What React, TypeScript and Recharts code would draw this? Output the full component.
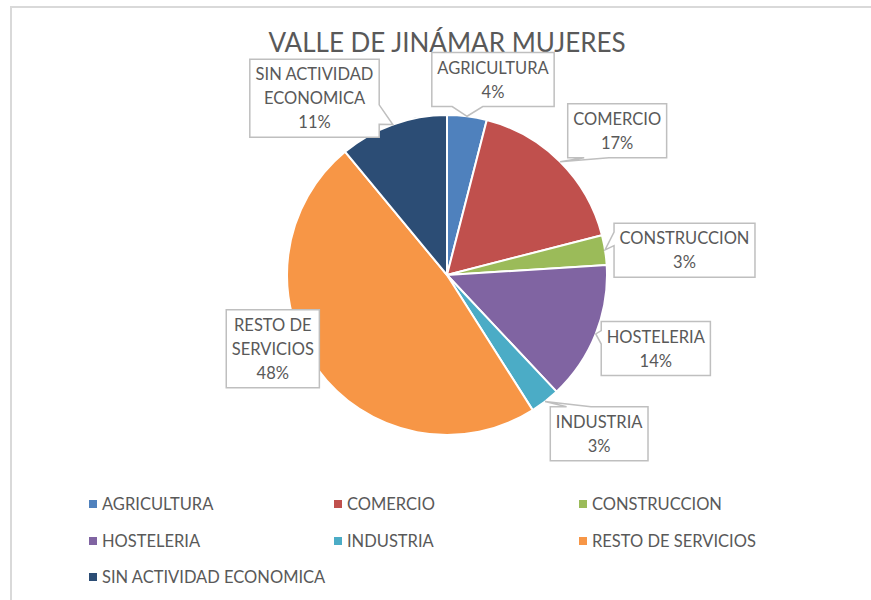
import { PieChart, Pie, Cell, Legend } from 'recharts';

const categories = [
  'AGRICULTURA',
  'COMERCIO',
  'CONSTRUCCION',
  'HOSTELERIA',
  'INDUSTRIA',
  'RESTO DE SERVICIOS',
  'SIN ACTIVIDAD ECONOMICA',
];
const shares = [4, 17, 3, 14, 3, 48, 11];
const COLORS = ['#4f81bd', '#c0504d', '#9bbb59', '#8064a2', '#4bacc6', '#f79646', '#2c4d75'];

// label box nudges (px) from the default outside position, to mimic Excel's best fit
const labelNudges = [
  [17, 0],
  [15, -5],
  [0, 6],
  [0, 1],
  [18, 3],
  [1, -49],
  [-53, 20],
];

const chartData = categories.map((name, i) => ({ name, value: shares[i] }));

const FONT = 'Lato, "Open Sans", sans-serif';
const TEXT = '#595959';
const LABEL_SIZE = 16.5;
const LINE_H = 24;
const RAD = Math.PI / 180;

let measureCtx: CanvasRenderingContext2D | null = null;
const measure = (s: string) => {
  if (!measureCtx) {
    measureCtx = document.createElement('canvas').getContext('2d');
  }
  if (!measureCtx) return s.length * 9;
  measureCtx.font = `${LABEL_SIZE}px Lato`;
  return measureCtx.measureText(s).width;
};

const wrap = (text: string, maxW: number) => {
  const words = text.split(' ');
  const lines: string[] = [];
  let cur = '';
  words.forEach((w) => {
    const next = cur ? cur + ' ' + w : w;
    if (cur && measure(next) > maxW) {
      lines.push(cur);
      cur = w;
    } else {
      cur = next;
    }
  });
  if (cur) lines.push(cur);
  return lines;
};

// rectangle callout with a wedge pointing at (tx, ty), like Excel's wedgeRectCallout
const calloutPath = (x0: number, y0: number, w: number, h: number, tx: number, ty: number) => {
  const hc = x0 + w / 2;
  const vc = y0 + h / 2;
  const dxPos = tx - hc;
  const dyPos = ty - vc;
  const inside = tx >= x0 && tx <= x0 + w && ty >= y0 && ty <= y0 + h;
  const vertical = Math.abs(dyPos * w) > Math.abs(dxPos * h);
  const x1 = x0 + (w * (dxPos > 0 ? 7 : 2)) / 12;
  const x2 = x0 + (w * (dxPos > 0 ? 10 : 5)) / 12;
  const y1 = y0 + (h * (dyPos > 0 ? 7 : 2)) / 12;
  const y2 = y0 + (h * (dyPos > 0 ? 10 : 5)) / 12;
  const side = inside ? '' : vertical ? (dyPos < 0 ? 't' : 'b') : dxPos < 0 ? 'l' : 'r';
  let d = `M${x0},${y0}`;
  if (side === 't') d += ` L${x1},${y0} L${tx},${ty} L${x2},${y0}`;
  d += ` L${x0 + w},${y0}`;
  if (side === 'r') d += ` L${x0 + w},${y1} L${tx},${ty} L${x0 + w},${y2}`;
  d += ` L${x0 + w},${y0 + h}`;
  if (side === 'b') d += ` L${x2},${y0 + h} L${tx},${ty} L${x1},${y0 + h}`;
  d += ` L${x0},${y0 + h}`;
  if (side === 'l') d += ` L${x0},${y2} L${tx},${ty} L${x0},${y1}`;
  return d + ' Z';
};

const renderLabel = (props: any) => {
  const { cx, cy, midAngle, outerRadius, percent, name, index } = props;
  const lines = [...wrap(name, 140), `${Math.round(percent * 100)}%`];
  const w = Math.max(...lines.map(measure)) + 11;
  const h = lines.length * LINE_H + 6;
  const cos = Math.cos(-midAngle * RAD);
  const sin = Math.sin(-midAngle * RAD);
  const tx = cx + outerRadius * cos;
  const ty = cy + outerRadius * sin;
  const px = cx + (outerRadius + 10) * cos;
  const py = cy + (outerRadius + 10) * sin;
  const [nx, ny] = labelNudges[index] || [0, 0];
  const bx = px + (cos * w) / 2 + nx;
  const by = py + (sin * h) / 2 + ny;
  const x0 = bx - w / 2;
  const y0 = by - h / 2;
  return (
    <g key={`lbl-${index}`}>
      <path d={calloutPath(x0, y0, w, h, tx, ty)} fill="#fff" stroke="#bfbfbf" strokeWidth={1.5} />
      {lines.map((ln, i) => (
        <text
          key={i}
          x={bx}
          y={by + (i - (lines.length - 1) / 2) * LINE_H}
          textAnchor="middle"
          dominantBaseline="central"
          fontFamily={FONT}
          fontSize={LABEL_SIZE}
          fill={TEXT}
        >
          {ln}
        </text>
      ))}
    </g>
  );
};

const renderLegend = (props: any) => {
  const items = props.payload || [];
  return (
    <div
      style={{
        display: 'grid',
        gridTemplateColumns: 'repeat(3, 245px)',
        fontFamily: FONT,
        fontSize: 16.5,
        color: TEXT,
      }}
    >
      {items.map((it: any, i: number) => (
        <div key={i} style={{ display: 'flex', alignItems: 'center', height: 36.5, whiteSpace: 'nowrap' }}>
          <span style={{ width: 8, height: 8, background: it.color, marginRight: 5, display: 'inline-block' }} />
          <span>{it.value}</span>
        </div>
      ))}
    </div>
  );
};

export default function App() {
  return (
    <div style={{ position: 'absolute', left: 0, top: 0, width: 871, height: 600, background: '#fff', overflow: 'hidden' }}>
      <div
        style={{
          position: 'absolute',
          left: 10,
          top: 6,
          width: 900,
          height: 700,
          borderTop: '2px solid #d9d9d9',
          borderLeft: '2px solid #d9d9d9',
        }}
      />
      <div
        style={{
          position: 'absolute',
          left: 0,
          width: 894,
          top: 24,
          textAlign: 'center',
          fontFamily: FONT,
          fontSize: 26,
          color: TEXT,
          lineHeight: '36px',
        }}
      >
        VALLE DE JINÁMAR MUJERES
      </div>
      <div style={{ position: 'absolute', left: 0, top: 0 }}>
        <PieChart width={871} height={600} margin={{ top: 0, right: 0, bottom: 0, left: 0 }}>
          <Pie
            data={chartData}
            dataKey="value"
            nameKey="name"
            cx={447}
            cy={275}
            outerRadius={160}
            startAngle={90}
            endAngle={-270}
            stroke="#fff"
            strokeWidth={2}
            labelLine={false}
            label={renderLabel}
            isAnimationActive={false}
          >
            {chartData.map((_, i) => (
              <Cell key={`cell-${i}`} fill={COLORS[i % COLORS.length]} />
            ))}
          </Pie>
          <Legend
            content={renderLegend}
            wrapperStyle={{ position: 'absolute', left: 89, top: 486, width: 760, bottom: 'auto' }}
          />
        </PieChart>
      </div>
    </div>
  );
}
